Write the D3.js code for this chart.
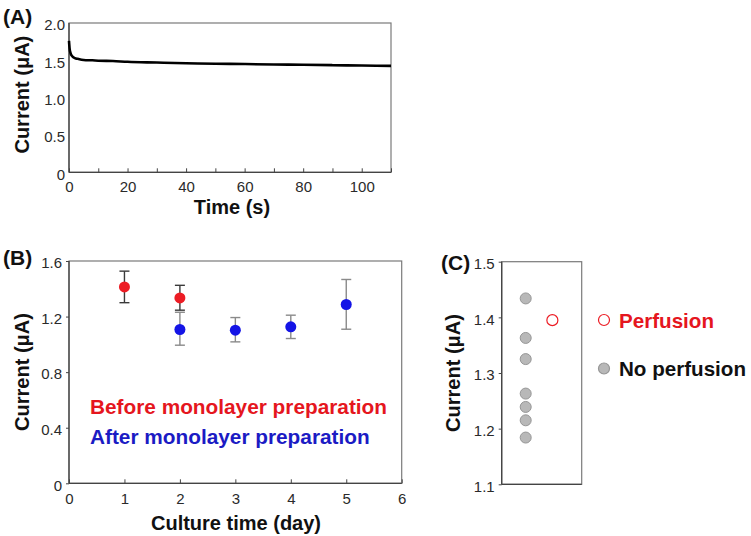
<!DOCTYPE html>
<html>
<head>
<meta charset="utf-8">
<script src="https://cdn.jsdelivr.net/npm/d3@7"></script>
<style>
  html, body { margin: 0; padding: 0; background: #fff; }
  svg { display: block; font-family: "Liberation Sans", Arial, sans-serif; }
</style>
</head>
<body>
<svg id="chart" width="751" height="536"></svg>
<script>
// ---------- Panel A: current vs time ----------
const timeS =    [0, 0.2, 0.5, 1, 2, 3, 5, 8, 10, 15, 20, 30, 40, 50, 60, 70, 80, 90, 100, 110];
const currentA = [1.76, 1.66, 1.60, 1.56, 1.53, 1.52, 1.505, 1.50, 1.495, 1.49, 1.48, 1.47, 1.46, 1.455, 1.45, 1.445, 1.44, 1.435, 1.43, 1.425];
const aXTicks = [0, 10, 20, 30, 40, 50, 60, 70, 80, 90, 100, 110];
const aYTicks = [0, 0.5, 1.0, 1.5, 2.0];

// ---------- Panel B: current vs culture time ----------
const beforeDays = [1, 2];
const beforeMean = [1.413, 1.334];
const beforeLow  = [1.300, 1.246];
const beforeHigh = [1.527, 1.425];
const afterDays = [2, 3, 4, 5];
const afterMean = [1.107, 1.102, 1.126, 1.287];
const afterLow  = [0.994, 1.018, 1.042, 1.109];
const afterHigh = [1.231, 1.193, 1.210, 1.467];
const bXTicks = [0, 1, 2, 3, 4, 5, 6];
const bYTicks = [0, 0.4, 0.8, 1.2, 1.6];
const bLegend = ["Before monolayer preparation", "After monolayer preparation"];

// ---------- Panel C: perfusion comparison ----------
const cGroups = ["No perfusion", "Perfusion"];
const noPerfusion = [1.434, 1.363, 1.325, 1.263, 1.239, 1.215, 1.184];
const perfusion = [1.395];
const cYTicks = [1.1, 1.2, 1.3, 1.4, 1.5];

const RED = "#ec1c24", BLUE = "#1414e6", REDTXT = "#e5161e", BLUETXT = "#1b1bc4";
const svg = d3.select("#chart");

function styleAxis(g) {
  g.select(".domain").remove();
  g.selectAll(".tick line").attr("stroke", "#444").attr("stroke-width", 1);
  g.selectAll(".tick text").attr("fill", "#2a2a2a").style("font-size", "15px");
}
function frame(x0, x1, y0, y1) {
  svg.append("rect").attr("x", x0).attr("y", y0).attr("width", x1 - x0).attr("height", y1 - y0)
    .attr("fill", "none").attr("stroke", "#7a7a7a").attr("stroke-width", 1.2);
  svg.append("line").attr("x1", x0).attr("x2", x0).attr("y1", y0).attr("y2", y1).attr("stroke", "#444").attr("stroke-width", 1.3);
  svg.append("line").attr("x1", x0).attr("x2", x1).attr("y1", y1).attr("y2", y1).attr("stroke", "#444").attr("stroke-width", 1.3);
}
function title(text, x, y, rot, size) {
  const t = svg.append("text").text(text).attr("font-weight", "bold").attr("fill", "#111")
    .style("font-size", (size || 20) + "px").attr("text-anchor", "middle");
  if (rot) t.attr("transform", `translate(${x},${y}) rotate(-90)`).attr("dy", "0.35em");
  else t.attr("x", x).attr("y", y);
  return t;
}
const fmt1 = d => d === 0 ? "0" : d3.format(".1f")(d);

// ===== Panel A =====
{
  const L = 69, R = 391, T = 23, B = 172.3;
  const x = d3.scaleLinear().domain([0, 110]).range([L, R]);
  const y = d3.scaleLinear().domain([0, 2.0]).range([B, T]);
  frame(L, R, T, B);
  svg.append("g").attr("transform", `translate(0,${B})`)
    .call(d3.axisBottom(x).tickValues(aXTicks).tickSizeInner(-4).tickSizeOuter(0).tickPadding(9)
      .tickFormat(d => d % 20 === 0 && d <= 100 ? d : ""))
    .call(styleAxis);
  svg.append("g").attr("transform", `translate(${L},0)`)
    .call(d3.axisLeft(y).tickValues(aYTicks).tickSizeInner(0).tickSizeOuter(0).tickPadding(4).tickFormat(fmt1))
    .call(styleAxis)
    .call(g => g.selectAll(".tick text").attr("dy", "0.45em"));
  const pts = timeS.map((t, i) => [t, currentA[i]]);
  svg.append("path").datum(pts)
    .attr("d", d3.line().x(d => x(d[0])).y(d => y(d[1])).curve(d3.curveMonotoneX))
    .attr("fill", "none").attr("stroke", "#000").attr("stroke-width", 2.6);
  title("Current (μA)", 22, (T + B) / 2 - 3, true);
  title("Time (s)", 232, 213.5, false);
  svg.append("text").text("(A)").attr("x", 3).attr("y", 24).attr("font-weight", "bold").style("font-size", "21px").attr("fill", "#111");
}

// ===== Panel B =====
{
  const L = 69, R = 401.7, T = 261, B = 483.3;
  const x = d3.scaleLinear().domain([0, 6]).range([L, R]);
  const y = d3.scaleLinear().domain([0, 1.6]).range([B, T]);
  frame(L, R, T, B);
  svg.append("g").attr("transform", `translate(0,${B})`)
    .call(d3.axisBottom(x).tickValues(bXTicks).tickSizeInner(-4).tickSizeOuter(0).tickPadding(10).tickFormat(d3.format("d")))
    .call(styleAxis);
  svg.append("g").attr("transform", `translate(${L},0)`)
    .call(d3.axisLeft(y).tickValues(bYTicks).tickSizeInner(3).tickSizeOuter(0).tickPadding(4).tickFormat(fmt1))
    .call(styleAxis)
    .call(g => g.selectAll(".tick text").attr("dy", "0.45em"));

  function series(days, mean, lo, hi, dotColor, barColor) {
    const g = svg.append("g");
    days.forEach((d, i) => {
      const cx = x(d);
      g.append("line").attr("x1", cx).attr("x2", cx).attr("y1", y(lo[i])).attr("y2", y(hi[i])).attr("stroke", barColor).attr("stroke-width", 1.4);
      [lo[i], hi[i]].forEach(v => g.append("line").attr("x1", cx - 5).attr("x2", cx + 5).attr("y1", y(v)).attr("y2", y(v)).attr("stroke", barColor).attr("stroke-width", 1.4));
    });
    g.selectAll("circle").data(days).join("circle")
      .attr("cx", d => x(d)).attr("cy", (d, i) => y(mean[i])).attr("r", 5.5).attr("fill", dotColor);
  }
  series(afterDays, afterMean, afterLow, afterHigh, BLUE, "#8a8a8a");
  series(beforeDays, beforeMean, beforeLow, beforeHigh, RED, "#3a3a3a");

  svg.append("text").text(bLegend[0]).attr("x", 90).attr("y", 413.5).attr("font-weight", "bold").style("font-size", "20.8px").attr("fill", REDTXT);
  svg.append("text").text(bLegend[1]).attr("x", 90).attr("y", 444).attr("font-weight", "bold").style("font-size", "20.8px").attr("fill", BLUETXT);

  title("Current (μA)", 22, 372, true);
  title("Culture time (day)", 236, 530, false);
  svg.append("text").text("(B)").attr("x", 3).attr("y", 265).attr("font-weight", "bold").style("font-size", "21px").attr("fill", "#111");
}

// ===== Panel C =====
{
  const L = 501.7, R = 581.7, T = 261.7, B = 484.3;
  const x = d3.scalePoint().domain(cGroups).range([L, R]).padding(1).align(0.45);
  const y = d3.scaleLinear().domain([1.1, 1.5]).range([B, T]);
  frame(L, R, T, B);
  svg.append("g").attr("transform", `translate(${L},0)`)
    .call(d3.axisLeft(y).tickValues(cYTicks).tickSizeInner(3).tickSizeOuter(0).tickPadding(4).tickFormat(d3.format(".1f")))
    .call(styleAxis)
    .call(g => g.selectAll(".tick text").attr("dy", "0.45em"));

  svg.append("g").selectAll("circle").data(noPerfusion).join("circle")
    .attr("cx", x("No perfusion")).attr("cy", d => y(d)).attr("r", 5.5)
    .attr("fill", "#b8b8b8").attr("stroke", "#969696").attr("stroke-width", 1);
  svg.append("g").selectAll("circle").data(perfusion).join("circle")
    .attr("cx", x("Perfusion")).attr("cy", d => y(d)).attr("r", 5.5)
    .attr("fill", "none").attr("stroke", RED).attr("stroke-width", 1.2);

  // legend
  const lg = svg.append("g");
  const items = [
    { label: "Perfusion", fill: "none", stroke: RED, text: REDTXT, cy: 320 },
    { label: "No perfusion", fill: "#b8b8b8", stroke: "#969696", text: "#111", cy: 368.5 }
  ];
  items.forEach(it => {
    lg.append("circle").attr("cx", 604).attr("cy", it.cy).attr("r", 5.5).attr("fill", it.fill).attr("stroke", it.stroke).attr("stroke-width", 1.2);
    lg.append("text").text(it.label).attr("x", 619).attr("y", it.cy + 7.5).attr("font-weight", "bold").style("font-size", "20.6px").attr("fill", it.text);
  });

  title("Current (μA)", 453, 373, true);
  svg.append("text").text("(C)").attr("x", 441).attr("y", 270).attr("font-weight", "bold").style("font-size", "21px").attr("fill", "#111");
}
</script>
</body>
</html>
